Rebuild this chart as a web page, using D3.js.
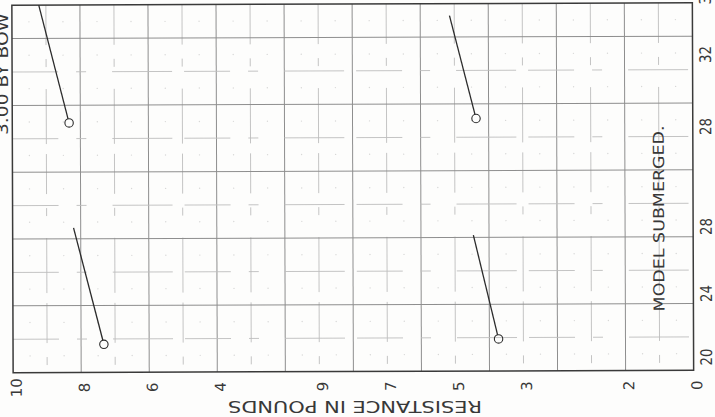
<!DOCTYPE html>
<html>
<head>
<meta charset="utf-8">
<script src="https://cdn.jsdelivr.net/npm/d3@7"></script>
<style>
  html, body { margin: 0; padding: 0; background: #fdfdfc; }
  svg { display: block; font-family: "DejaVu Sans", "Liberation Sans", sans-serif; }
</style>
</head>
<body>
<div id="chart"></div>
<script>
// The sheet is read in grid squares: x runs 0..20 across, y runs 0..11 up.
const bottomTickPos = [0, 2, 4, 6, 9, 11, 13, 15, 18, 20];
const bottomTickLabels = ["10", "8", "6", "4", "9", "7", "5", "3", "2", "0"];
const rightTickPos = [0.1, 2.0, 4.0, 7.0, 9.15, 10.9];
const rightTickLabels = ["20", "24", "28", "28", "32", "36"];

// four faired lines, each ending at a circled test spot
const runStartX = [0.79, 1.79, 12.86, 13.54];
const runStartY = [11.0, 4.33, 10.64, 4.07];
const spotX = [1.67, 2.67, 13.63, 14.27];
const spotY = [7.47, 0.84, 7.56, 0.96];

const yTitle = "RESISTANCE IN POUNDS";
const note = "MODEL  SUBMERGED.";
const cornerNote = "3.00  BY  BOW";

const W = 715, H = 417;
const plotLeft = 12.5, plotRight = 693, plotTop = 4, plotBottom = 371.5;
const ink = '#383838';

const svg = d3.select('#chart').append('svg')
  .attr('width', W)
  .attr('height', H);

// the scan sits a little crooked
const g = svg.append('g')
  .attr('transform', `rotate(-0.2, ${(plotLeft + plotRight) / 2}, ${(plotTop + plotBottom) / 2})`);

const x = d3.scaleLinear().domain([0, 20]).range([plotLeft, plotRight]);
const y = d3.scaleLinear().domain([0, 11]).range([plotBottom, plotTop]);

// faint dots of the fine ruling
const dots = [];
for (let i = 0; i <= 40; i++) {
  for (let j = 0; j <= 22; j++) {
    const xv = i / 2, yv = j / 2;
    if (xv % 1 === 0 || yv % 1 === 0) continue;
    dots.push([xv, yv]);
  }
}
g.append('g')
  .selectAll('circle')
  .data(dots)
  .enter()
  .append('circle')
  .attr('cx', d => x(d[0]))
  .attr('cy', d => y(d[1]))
  .attr('r', 0.7)
  .attr('fill', '#a0a0a0')
  .attr('opacity', 0.4);

// grid: even squares solid, odd ones broken
const xLines = d3.range(1, 20);
const yLines = d3.range(1, 11);

g.append('g')
  .selectAll('line')
  .data(xLines)
  .enter()
  .append('line')
  .attr('x1', d => x(d)).attr('x2', d => x(d))
  .attr('y1', y(11)).attr('y2', y(0))
  .attr('stroke', d => d % 2 === 0 ? '#8e8e8e' : '#bdbdbd')
  .attr('stroke-width', d => d % 2 === 0 ? 1 : 0.9)
  .attr('stroke-dasharray', d => d % 2 === 0 ? null : '40,14,8,22,55,10');

g.append('g')
  .selectAll('line')
  .data(yLines)
  .enter()
  .append('line')
  .attr('x1', x(0)).attr('x2', x(20))
  .attr('y1', d => y(d)).attr('y2', d => y(d))
  .attr('stroke', d => d % 2 === 0 ? '#8e8e8e' : '#bdbdbd')
  .attr('stroke-width', d => d % 2 === 0 ? 1 : 0.9)
  .attr('stroke-dasharray', d => d % 2 === 0 ? null : '46,18,10,26,60,12');

// frame
g.append('rect')
  .attr('x', x(0))
  .attr('y', y(11))
  .attr('width', x(20) - x(0))
  .attr('height', y(0) - y(11))
  .attr('fill', 'none')
  .attr('stroke', '#3a3a3a')
  .attr('stroke-width', 1.5);

// bottom axis, lettered sideways
const xAxis = g.append('g')
  .attr('transform', `translate(0,${plotBottom})`)
  .call(d3.axisBottom(x)
    .tickValues(bottomTickPos)
    .tickFormat((d, i) => bottomTickLabels[i])
    .tickSize(0));
xAxis.select('.domain').remove();
xAxis.selectAll('text')
  .attr('y', 0)
  .attr('dy', 0)
  .attr('transform', 'translate(3,15) rotate(-90)')
  .attr('text-anchor', 'middle')
  .attr('dominant-baseline', 'central')
  .style('font-size', '15px')
  .style('font-family', '"DejaVu Sans", sans-serif')
  .attr('fill', ink);

// right axis, lettered sideways
const yAxis = g.append('g')
  .attr('transform', `translate(${plotRight},0)`)
  .call(d3.axisRight(y)
    .tickValues(rightTickPos)
    .tickFormat((d, i) => rightTickLabels[i])
    .tickSize(0));
yAxis.select('.domain').remove();
yAxis.selectAll('text')
  .attr('x', 0)
  .attr('dy', 0)
  .attr('transform', 'translate(13,-2) rotate(-90)')
  .attr('text-anchor', 'start')
  .attr('dominant-baseline', 'central')
  .attr('textLength', 17)
  .attr('lengthAdjust', 'spacingAndGlyphs')
  .style('font-size', '16px')
  .style('font-family', '"DejaVu Sans", sans-serif')
  .attr('fill', ink);

// axis title, upside down under the sheet
svg.append('text')
  .attr('transform', 'translate(355,406) rotate(180)')
  .attr('text-anchor', 'middle')
  .attr('dominant-baseline', 'central')
  .attr('textLength', 254)
  .attr('lengthAdjust', 'spacingAndGlyphs')
  .style('font-size', '15px')
  .attr('fill', ink)
  .text(yTitle);

// condition note on the sheet
g.append('text')
  .attr('transform', `translate(${x(19)},${y(0) - 59}) rotate(-90)`)
  .attr('text-anchor', 'start')
  .attr('dominant-baseline', 'central')
  .attr('textLength', 186)
  .attr('lengthAdjust', 'spacingAndGlyphs')
  .style('font-size', '15px')
  .attr('fill', ink)
  .text(note);

// trim note running off the left edge of the scan
svg.append('text')
  .attr('transform', 'translate(3,135) rotate(-90)')
  .attr('text-anchor', 'start')
  .attr('dominant-baseline', 'central')
  .attr('textLength', 122)
  .attr('lengthAdjust', 'spacingAndGlyphs')
  .style('font-size', '15px')
  .attr('fill', ink)
  .text(cornerNote);

// faired lines and circled spots
const runs = runStartX.map((d, i) => ({
  x0: runStartX[i], y0: runStartY[i], x1: spotX[i], y1: spotY[i]
}));

function trimEnd(d) {
  const dx = x(d.x1) - x(d.x0), dy = y(d.y1) - y(d.y0);
  const len = Math.hypot(dx, dy);
  return [x(d.x1) - dx / len * 4.2, y(d.y1) - dy / len * 4.2];
}

g.append('g')
  .selectAll('line')
  .data(runs)
  .enter()
  .append('line')
  .attr('x1', d => x(d.x0))
  .attr('y1', d => y(d.y0))
  .attr('x2', d => trimEnd(d)[0])
  .attr('y2', d => trimEnd(d)[1])
  .attr('stroke', '#2b2b2b')
  .attr('stroke-width', 1.3);

g.append('g')
  .selectAll('circle')
  .data(runs)
  .enter()
  .append('circle')
  .attr('cx', d => x(d.x1))
  .attr('cy', d => y(d.y1))
  .attr('r', 4.2)
  .attr('fill', 'none')
  .attr('stroke', '#2b2b2b')
  .attr('stroke-width', 1.1);
</script>
</body>
</html>
